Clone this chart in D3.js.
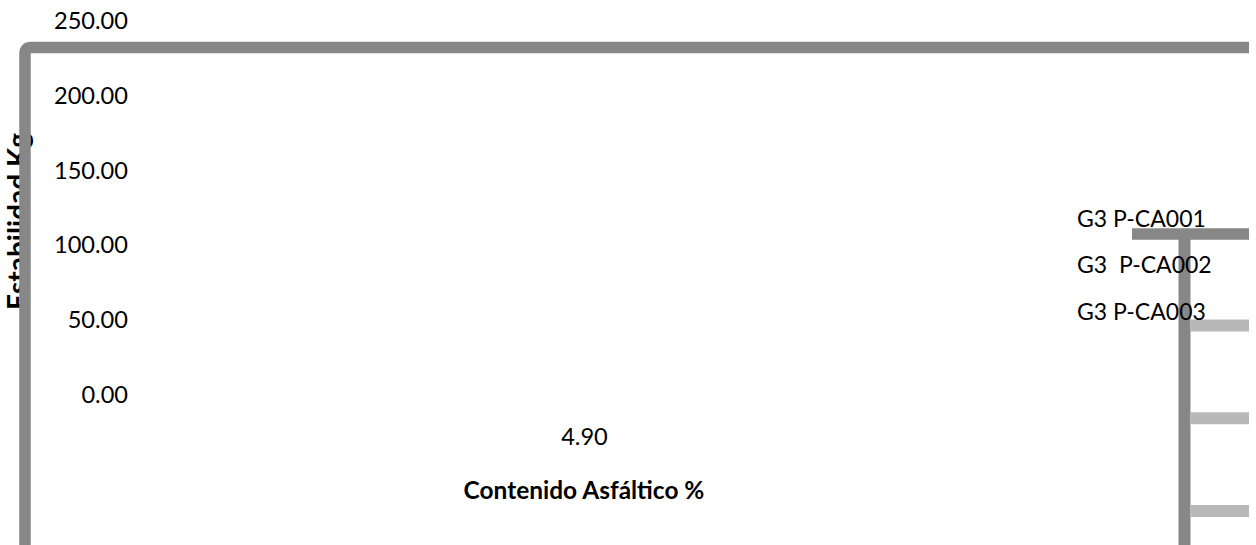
<!DOCTYPE html>
<html>
<head>
<meta charset="utf-8">
<script src="https://cdn.jsdelivr.net/npm/d3@7"></script>
<style>
  html, body { margin: 0; padding: 0; background: #fff; }
  svg { display: block; font-family: Lato, "Open Sans", sans-serif; }
</style>
</head>
<body>
<svg id="chart" width="1256" height="545"></svg>
<script>
// Asphalt content tested (x category) and stability axis ticks
const categories = ["4.90"];
const yTicks = [0, 50, 100, 150, 200, 250];
const seriesNames = ["G3 P-CA001", "G3  P-CA002", "G3 P-CA003"];
const xTitle = "Contenido Asfáltico %";
const yTitle = "Estabilidad Kg";

const svg = d3.select("#chart");
const W = 1256, H = 545;

const frameColor = "#878787";
const keyColor = "#b8b8b8";
const font = "Lato, 'Open Sans', sans-serif";

// Scales
const y = d3.scaleLinear().domain([0, 250]).range([395, 21]);
const x = d3.scalePoint().domain(categories).range([584, 584]);

// Shrink or grow a text node's font so it spans the given width
function fitWidth(sel, width) {
  const node = sel.node();
  const fs = parseFloat(sel.attr("font-size"));
  const len = node.getComputedTextLength();
  if (len > 0) sel.attr("font-size", (fs * width / len).toFixed(2));
  return sel;
}

// Y axis title (sits underneath the frame edge)
const yt = svg.append("text")
  .attr("transform", `translate(28,221.5) rotate(-90)`)
  .attr("text-anchor", "middle")
  .attr("font-weight", "bold")
  .attr("font-size", 22)
  .attr("fill", "#000")
  .text(yTitle);
fitWidth(yt, 177);

// Y tick labels
const yAxis = d3.axisLeft(y).tickValues(yTicks).tickFormat(d3.format(".2f")).tickSize(0).tickPadding(0);
const gy = svg.append("g").attr("transform", "translate(128,0)").call(yAxis);
gy.select(".domain").remove();
gy.selectAll("text").attr("font-size", 23.6).attr("font-family", font).attr("fill", "#000");

// X tick label
const xAxis = d3.axisBottom(x).tickSize(0).tickPadding(0);
const gx = svg.append("g").attr("transform", "translate(0,437)").call(xAxis);
gx.select(".domain").remove();
gx.selectAll("text").attr("font-size", 23.6).attr("font-family", font).attr("fill", "#000").attr("dy", "0.32em");

// X axis title
const xt = svg.append("text")
  .attr("x", 584).attr("y", 499)
  .attr("text-anchor", "middle")
  .attr("font-weight", "bold")
  .attr("font-size", 22)
  .attr("fill", "#000")
  .text(xTitle);
fitWidth(xt, 241);

// Chart area frame: top and left edges with a rounded corner
const r = 6, sw = 11.5;
const fx = 25, fy = 47.5, fRight = 1249;
svg.append("path")
  .attr("d", `M${fRight},${fy} L${fx + r},${fy} Q${fx},${fy} ${fx},${fy + r} L${fx},${H + 10}`)
  .attr("fill", "none")
  .attr("stroke", frameColor)
  .attr("stroke-width", sw);

// Legend
const legLabelY = d3.scaleLinear().domain([0, seriesNames.length - 1]).range([219, 311.5]);
const legKeyY = d3.scaleLinear().domain([0, seriesNames.length - 1]).range([325.5, 511]);

const leg = svg.append("g");

// Legend box edges
leg.append("line")
  .attr("x1", 1132).attr("x2", fRight)
  .attr("y1", 234).attr("y2", 234)
  .attr("stroke", frameColor).attr("stroke-width", sw);
leg.append("line")
  .attr("x1", 1184.5).attr("x2", 1184.5)
  .attr("y1", 239).attr("y2", H + 10)
  .attr("stroke", frameColor).attr("stroke-width", 12);

// Legend keys
leg.selectAll("line.key")
  .data(seriesNames)
  .join("line")
  .attr("class", "key")
  .attr("x1", 1190.5).attr("x2", 1249)
  .attr("y1", (d, i) => legKeyY(i)).attr("y2", (d, i) => legKeyY(i))
  .attr("stroke", keyColor).attr("stroke-width", 12);

// Legend labels, drawn over the box edges
leg.selectAll("text.lbl")
  .data(seriesNames)
  .join("text")
  .attr("class", "lbl")
  .attr("x", 1077)
  .attr("y", (d, i) => legLabelY(i))
  .attr("dy", "0.35em")
  .attr("font-size", 23)
  .attr("font-family", font)
  .attr("fill", "#000")
  .style("white-space", "pre")
  .text(d => d);
</script>
</body>
</html>
